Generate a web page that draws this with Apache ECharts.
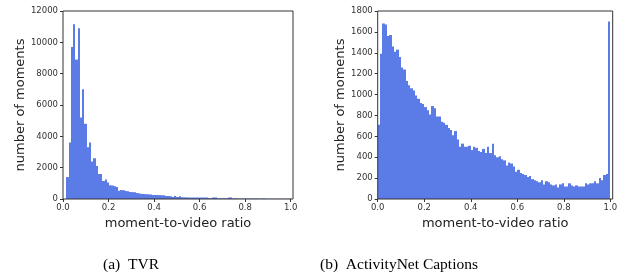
<!DOCTYPE html>
<html>
<head>
<meta charset="utf-8">
<script src="https://cdn.jsdelivr.net/npm/echarts@6/dist/echarts.min.js"></script>
<style>
html,body{margin:0;padding:0;background:#fff;}
#chart{width:622px;height:277px;}
</style>
</head>
<body>
<div id="chart"></div>
<script>
// ---- data ----
const xTicks = [0, 0.2, 0.4, 0.6, 0.8, 1.0];
const tvrYTicks = [0, 2000, 4000, 6000, 8000, 10000, 12000];
const anetYTicks = [0, 200, 400, 600, 800, 1000, 1200, 1400, 1600, 1800];

// TVR: 100 bins starting at 0.015, width ~0.00985
const tvrBinStart = 0.015;
const tvrBinWidth = 0.00985;
const tvrCounts = [
  1400, 3600, 9700, 11150, 8900, 10900, 5200, 7000, 4800, 3300,
  3600, 2400, 2600, 2100, 1600, 1600, 1150, 1250, 1050, 880,
  860, 820, 760, 520, 580, 560, 510, 500, 450, 440,
  430, 390, 370, 330, 320, 310, 300, 290, 260, 250,
  250, 250, 240, 240, 190, 190, 180, 130, 190, 130,
  180, 110, 110, 105, 100, 100, 100, 95, 95, 90,
  100, 100, 95, 60, 55, 100, 100, 55, 50, 50,
  45, 45, 100, 100, 40, 40, 35, 35, 35, 30,
  30, 30, 30, 30, 25, 25, 25, 25, 25, 20,
  20, 20, 20, 20, 20, 20, 20, 20, 20, 20
];

// ActivityNet Captions: 100 bins from 0 to 1, width 0.01
const anetBinStart = 0;
const anetBinWidth = 0.01;
const anetCounts = [
  710, 1390, 1680, 1670, 1560, 1570, 1460, 1410, 1430, 1360,
  1260, 1240, 1130, 1090, 1060, 1040, 990, 960, 920, 910,
  880, 850, 810, 890, 870, 790, 790, 740, 730, 710,
  680, 660, 610, 650, 570, 500, 530, 500, 500, 510,
  470, 500, 490, 460, 450, 480, 440, 500, 440, 530,
  420, 400, 410, 380, 370, 320, 350, 340, 310, 260,
  280, 250, 240, 230, 210, 220, 190, 180, 170, 160,
  180, 140, 170, 160, 140, 130, 140, 110, 140, 150,
  120, 120, 150, 130, 120, 130, 120, 120, 120, 150,
  140, 150, 150, 170, 150, 200, 180, 230, 240, 1700
];

const captions = ['(a)  TVR', '(b)  ActivityNet Captions'];
const xTitle = 'moment-to-video ratio';
const yTitle = 'number of moments';

function bins(start, width, counts) {
  return counts.map((c, i) => [start + i * width, start + (i + 1) * width, c]);
}

const barColor = '#5b7be7';
const frameColor = '#333';
const labelColor = '#333';
const tickFont = 'DejaVu Sans';

function renderBar(params, api) {
  const p0 = api.coord([api.value(0), api.value(2)]);
  const p1 = api.coord([api.value(1), 0]);
  const x0 = Math.round(p0[0]);
  const x1 = Math.round(p1[0]);
  return {
    type: 'rect',
    shape: { x: x0, y: p0[1], width: Math.max(1, x1 - x0), height: p1[1] - p0[1] },
    style: { fill: barColor, stroke: null }
  };
}

function xAxisCfg(gridIndex) {
  return {
    type: 'value', gridIndex, min: 0, max: 1.01,
    name: xTitle, nameLocation: 'middle', nameGap: 15,
    nameTextStyle: { fontFamily: tickFont, fontSize: 13, color: '#222' },
    axisLine: { show: false },
    axisTick: { show: true, length: 3, lineStyle: { color: frameColor }, customValues: xTicks },
    axisLabel: { show: true, margin: 4, fontFamily: tickFont, fontSize: 8.5, color: labelColor,
      customValues: xTicks, formatter: v => v.toFixed(1) },
    splitLine: { show: false }
  };
}

function yAxisCfg(gridIndex, ticks, nameGap) {
  return {
    type: 'value', gridIndex, min: ticks[0], max: ticks[ticks.length - 1],
    interval: ticks[1] - ticks[0],
    name: yTitle, nameLocation: 'middle', nameGap: nameGap,
    nameTextStyle: { fontFamily: tickFont, fontSize: 13, color: '#222' },
    axisLine: { show: false },
    axisTick: { show: true, length: 3, lineStyle: { color: frameColor } },
    axisLabel: { show: true, margin: 5, fontFamily: tickFont, fontSize: 8.5, color: labelColor,
      formatter: v => String(v) },
    splitLine: { show: false }
  };
}

const chart = echarts.init(document.getElementById('chart'), null, { renderer: 'canvas' });
chart.setOption({
  animation: false,
  backgroundColor: '#fff',
  grid: [
    { left: 63, top: 11, width: 230, height: 188, show: true, borderColor: frameColor, borderWidth: 1, backgroundColor: 'transparent', z: 5 },
    { left: 377.7, top: 11, width: 235, height: 188, show: true, borderColor: frameColor, borderWidth: 1, backgroundColor: 'transparent', z: 5 }
  ],
  xAxis: [xAxisCfg(0), xAxisCfg(1)],
  yAxis: [yAxisCfg(0, tvrYTicks, 36), yAxisCfg(1, anetYTicks, 31)],
  series: [
    { type: 'custom', xAxisIndex: 0, yAxisIndex: 0, renderItem: renderBar,
      encode: { x: [0, 1], y: 2 }, data: bins(tvrBinStart, tvrBinWidth, tvrCounts), clip: true },
    { type: 'custom', xAxisIndex: 1, yAxisIndex: 1, renderItem: renderBar,
      encode: { x: [0, 1], y: 2 }, data: bins(anetBinStart, anetBinWidth, anetCounts), clip: true }
  ],
  graphic: [
    { type: 'text', x: 131, y: 265, style: { text: captions[0], font: '15.5px "Liberation Serif"', fill: '#000', align: 'center', verticalAlign: 'middle' } },
    { type: 'text', x: 399, y: 265, style: { text: captions[1], font: '15.5px "Liberation Serif"', fill: '#000', align: 'center', verticalAlign: 'middle' } }
  ]
});
</script>
</body>
</html>
